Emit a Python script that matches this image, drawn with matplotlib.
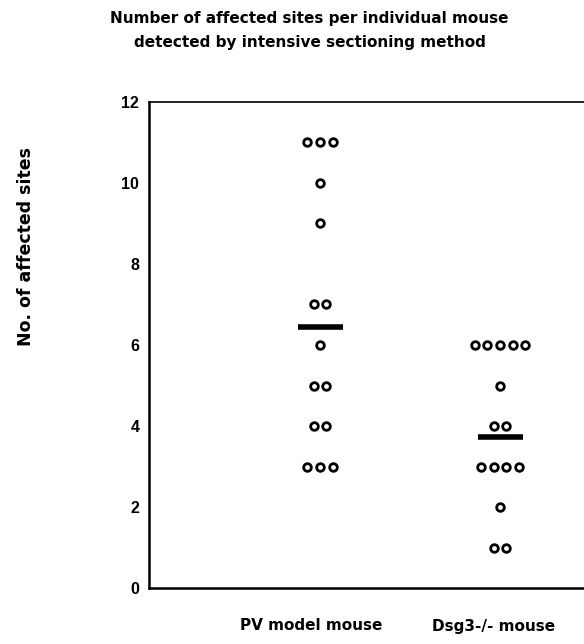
import matplotlib
matplotlib.use("Agg")
import matplotlib.pyplot as plt
import numpy as np

# data
groups = ["PV model mouse", "Dsg3-/- mouse"]
pv_values = [3, 3, 3, 4, 4, 5, 5, 6, 7, 7, 9, 10, 11, 11, 11]
dsg3_values = [1, 1, 2, 3, 3, 3, 3, 4, 4, 5, 6, 6, 6, 6, 6]
bar_levels = [6.45, 3.72]
y_ticks = [0, 2, 4, 6, 8, 10, 12]

W, H = 584, 644
fig = plt.figure(figsize=(W / 100, H / 100), dpi=100)
ax = fig.add_axes([149 / W, (H - 588) / H, 450 / W, 486 / H])

dx = 0.07
for pos, vals in zip([1, 2], [pv_values, dsg3_values]):
    uniq, counts = np.unique(vals, return_counts=True)
    for v, c in zip(uniq, counts):
        xs = pos + (np.arange(c) - (c - 1) / 2) * dx
        ax.plot(xs, [v] * c, "o", ms=5.5, mfc="white", mec="black", mew=2.0,
                linestyle="none")

for pos, m in zip([1, 2], bar_levels):
    ax.plot([pos - 0.125, pos + 0.125], [m, m], color="black", lw=4.0,
            solid_capstyle="butt")

ax.set_xlim(0.05, 2.55)
ax.set_ylim(0, 12)
ax.set_yticks(y_ticks)
ax.set_yticklabels([str(t) for t in y_ticks], fontsize=11.5, fontweight="bold",
                   family="Liberation Sans")
ax.set_xticks([])
ax.tick_params(axis="y", length=0, pad=7)
for s in ["left", "bottom"]:
    ax.spines[s].set_linewidth(1.8)
ax.spines["top"].set_linewidth(1.2)
ax.spines["right"].set_visible(False)

fig.text(309 / W, 1 - 19 / H, "Number of affected sites per individual mouse",
         ha="center", va="center", fontsize=11, fontweight="bold")
fig.text(310 / W, 1 - 42 / H, "detected by intensive sectioning method",
         ha="center", va="center", fontsize=11, fontweight="bold")
fig.text(26 / W, 1 - 247 / H, "No. of affected sites", rotation=90,
         ha="center", va="center", fontsize=12.5, fontweight="bold")
fig.text(311 / W, 1 - 626 / H, groups[0], ha="center", va="center",
         fontsize=11, fontweight="bold")
fig.text(494 / W, 1 - 626 / H, groups[1], ha="center", va="center",
         fontsize=11, fontweight="bold")

fig.savefig("out.png", dpi=100)
